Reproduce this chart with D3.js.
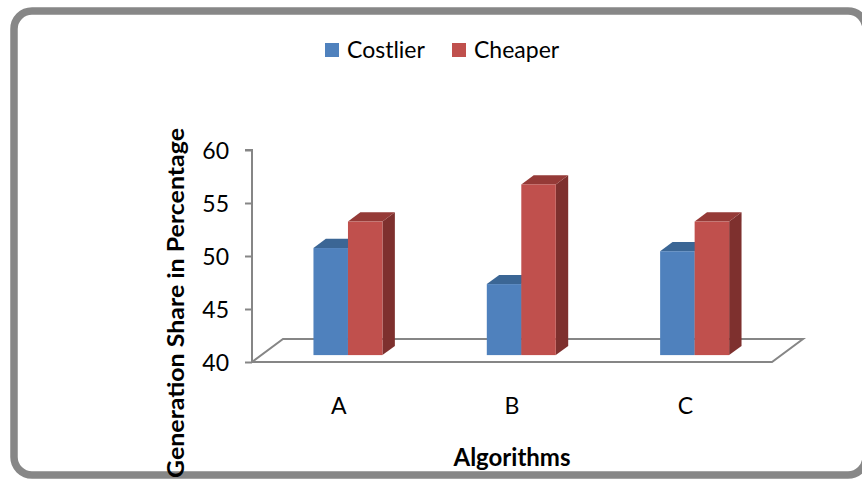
<!DOCTYPE html>
<html>
<head>
<meta charset="utf-8">
<script src="https://cdn.jsdelivr.net/npm/d3@7"></script>
<style>
  html, body { margin: 0; padding: 0; background: #ffffff; }
  svg { display: block; font-family: Lato, "Open Sans", sans-serif; }
</style>
</head>
<body>
<svg id="chart" width="862" height="481"></svg>
<script>
// Chart data
const categories = ["A", "B", "C"];
const seriesNames = ["Costlier", "Cheaper"];
const costlier = [50.1, 46.7, 49.8];
const cheaper = [52.6, 56.1, 52.6];
const yTicks = [40, 45, 50, 55, 60];

const colors = {
  Costlier: { front: "#4F81BD", top: "#3B6695", side: "#385D8A" },
  Cheaper:  { front: "#C0504D", top: "#953A37", side: "#7E302E" }
};

const svg = d3.select("#chart");

// Rounded outer frame
svg.append("rect")
  .attr("x", 14).attr("y", 11)
  .attr("width", 852).attr("height", 464)
  .attr("rx", 18).attr("ry", 18)
  .attr("fill", "#ffffff")
  .attr("stroke", "#878787")
  .attr("stroke-width", 7.5);

// Plot geometry: front floor edge and depth offset of the floor
const left = 252, right = 772;
const depth = { dx: 31, dy: -23 };

const y = d3.scaleLinear().domain([40, 60]).range([362, 150]);
const x0 = d3.scaleBand().domain(categories).range([left, right]).padding(0);
const pairWidth = 69;
const x1 = d3.scaleBand().domain(seriesNames).range([0, pairWidth]);

const floorY = y(40);
const axisColor = "#868686";

// Floor outline
const floor = svg.append("g").attr("fill", "none").attr("stroke", axisColor).attr("stroke-width", 2);
floor.append("path").attr("d", d3.line()([
  [left, floorY],
  [left + depth.dx, floorY + depth.dy],
  [right + depth.dx, floorY + depth.dy],
  [right, floorY],
  [left, floorY]
]));

// Vertical value axis with ticks on the left
const yAxis = d3.axisLeft(y).tickValues(yTicks).tickSize(7).tickPadding(16);
const yg = svg.append("g").attr("transform", `translate(${left},0)`).call(yAxis);
yg.select(".domain").attr("stroke", axisColor).attr("stroke-width", 2)
  .attr("d", `M-7,${y(60)}H0V${y(40)}`);
yg.selectAll(".tick line").attr("stroke", axisColor).attr("stroke-width", 2);
yg.selectAll(".tick text")
  .attr("fill", "#000").attr("font-size", 23).attr("font-family", "Lato, sans-serif")
  .attr("dy", "0.36em");

// Bars: front face set 30% into the floor depth, 40% deep
const f0 = 0.3, f1 = 0.4;
const off = { dx: depth.dx * f0, dy: depth.dy * f0 };
const bd = { dx: depth.dx * f1, dy: depth.dy * f1 };

const barData = [];
categories.forEach((c, i) => {
  barData.push({ cat: c, series: "Costlier", value: costlier[i] });
  barData.push({ cat: c, series: "Cheaper", value: cheaper[i] });
});

const bars = svg.append("g").selectAll("g.bar").data(barData).join("g").attr("class", "bar");
bars.each(function(d) {
  const g = d3.select(this);
  const col = colors[d.series];
  const bx = x0(d.cat) + (x0.bandwidth() - pairWidth) / 2 + x1(d.series) + off.dx;
  const w = x1.bandwidth();
  const yb = y(40) + off.dy;
  const yt = y(d.value) + off.dy;
  // side face
  g.append("path").attr("fill", col.side).attr("d", d3.line()([
    [bx + w, yb], [bx + w + bd.dx, yb + bd.dy], [bx + w + bd.dx, yt + bd.dy], [bx + w, yt]
  ]) + "Z");
  // top face
  g.append("path").attr("fill", col.top).attr("d", d3.line()([
    [bx, yt], [bx + bd.dx, yt + bd.dy], [bx + w + bd.dx, yt + bd.dy], [bx + w, yt]
  ]) + "Z");
  // front face
  g.append("rect").attr("x", bx).attr("y", yt).attr("width", w).attr("height", yb - yt)
    .attr("fill", col.front);
});

// Category labels along the front floor edge
svg.append("g").selectAll("text").data(categories).join("text")
  .attr("x", d => x0(d) + x0.bandwidth() / 2)
  .attr("y", 414)
  .attr("text-anchor", "middle")
  .attr("font-size", 23)
  .attr("fill", "#000")
  .text(d => d);

// Axis titles
svg.append("text")
  .attr("x", 512).attr("y", 466)
  .attr("text-anchor", "middle")
  .attr("font-size", 24).attr("font-weight", "bold")
  .attr("fill", "#000")
  .text("Algorithms");

svg.append("text")
  .attr("transform", "translate(184,303) rotate(-90)")
  .attr("text-anchor", "middle")
  .attr("font-size", 23).attr("font-weight", "bold")
  .attr("textLength", 350).attr("lengthAdjust", "spacingAndGlyphs")
  .attr("fill", "#000")
  .text("Generation Share in Percentage");

// Legend
const legend = svg.append("g");
const legendX = [325, 452];
seriesNames.forEach((s, i) => {
  legend.append("rect").attr("x", legendX[i]).attr("y", 43).attr("width", 14).attr("height", 14)
    .attr("fill", colors[s].front);
  legend.append("text").attr("x", legendX[i] + 22).attr("y", 58)
    .attr("font-size", 23).attr("fill", "#000").text(s);
});
</script>
</body>
</html>
